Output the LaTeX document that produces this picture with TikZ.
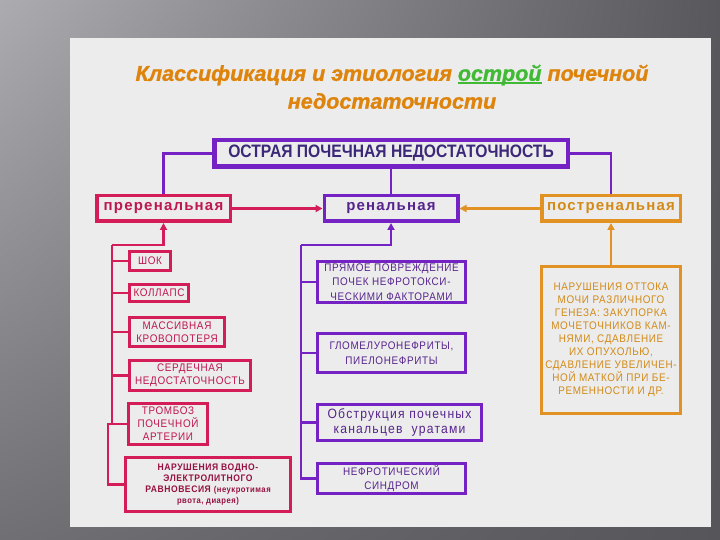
\documentclass[tikz,border=0pt]{standalone}
\usepackage{fontspec}
\setmainfont{Liberation Sans}
\newfontfamily\titlef[FakeBold=1.2]{Liberation Sans}
\newfontfamily\mainf[FakeStretch=0.87]{Liberation Sans}
\newfontfamily\spacef[LetterSpace=8]{Liberation Sans}
\newfontfamily\smallf[FakeStretch=0.9,LetterSpace=6]{Liberation Sans}
\newfontfamily\obsf[FakeStretch=0.9,LetterSpace=9]{Liberation Sans}
\usetikzlibrary{arrows.meta,shadings}
\definecolor{crim}{RGB}{212,28,88}
\definecolor{crimtxt}{RGB}{190,22,78}
\definecolor{crimdark}{RGB}{150,16,64}
\definecolor{purp}{RGB}{116,34,196}
\definecolor{purptxt}{RGB}{86,36,140}
\definecolor{maintxt}{RGB}{60,40,120}
\definecolor{oran}{RGB}{226,146,34}
\definecolor{orantxt}{RGB}{210,138,24}
\definecolor{panel}{RGB}{236,236,236}
\definecolor{titleor}{RGB}{222,132,12}
\definecolor{titlegr}{RGB}{64,186,52}
\definecolor{bgul}{RGB}{172,172,176}
\definecolor{bgur}{RGB}{88,88,92}
\definecolor{bgll}{RGB}{112,112,116}
\definecolor{bglr}{RGB}{86,86,90}
\newcommand{\grul}[1]{\textcolor{titlegr}{\rlap{\rule[-3pt]{\widthof{#1}}{1.4pt}}#1}}
\usepackage{calc}
\begin{document}
\begin{tikzpicture}[x=1pt,y=-1pt,
  box/.style={draw, rectangle, inner sep=0pt, align=center, fill=panel},
  mainbox/.style={box, draw=purp, line width=4.5pt, text=maintxt, font=\mainf\bfseries\fontsize{18}{20}\selectfont},
  lvl/.style={box, line width=3.5pt, minimum height=25.5pt, font=\spacef\bfseries\fontsize{15}{17}\selectfont},
  cbox/.style={box, line width=3pt, draw=crim, text=crimtxt, font=\smallf\fontsize{11}{13}\selectfont},
  rbox/.style={box, line width=3pt, draw=purp, text=purptxt, font=\smallf\fontsize{11}{14.5}\selectfont},
  obox/.style={box, line width=3pt, draw=oran, text=orantxt, font=\smallf\fontsize{11}{13}\selectfont},
  conn/.style={line width=2.2pt},
  arr/.style={conn, -{Triangle[length=7pt,width=7pt]}}
]
\useasboundingbox (0,0) rectangle (720,540);
\shade[upper left=bgul, upper right=bgur, lower left=bgll, lower right=bglr] (0,0) rectangle (720,540);
\fill[panel] (70,38) rectangle (711,527);

% title
\node[text=titleor, font=\titlef\bfseries\itshape\fontsize{21.5}{24}\selectfont] (t1) at (392,75)
  {Классификация и этиология \grul{острой} почечной};
\node[text=titleor, font=\titlef\bfseries\itshape\fontsize{21.5}{24}\selectfont] (t2) at (392,101)
  {недостаточности};

% main
\node[mainbox, minimum width=353.5pt, minimum height=26.5pt] (main) at (391,153.5) {ОСТРАЯ ПОЧЕЧНАЯ НЕДОСТАТОЧНОСТЬ};

% level 1
\node[lvl, draw=crim, text=crimtxt, minimum width=133.5pt] (pre) at (163.5,208.5) {преренальная};
\node[lvl, draw=purp, text=purptxt, minimum width=133.5pt] (ren) at (391,208.5) {ренальная};
\node[lvl, draw=oran, text=orantxt, minimum width=138.5pt] (post) at (611,208.5) {постренальная};

% prerenal children
\node[cbox, minimum width=41pt, minimum height=19pt] (shok) at (150,261) {ШОК};
\node[cbox, minimum width=59pt, minimum height=17pt] (koll) at (159,293) {КОЛЛАПС};
\node[cbox, minimum width=95pt, minimum height=29pt] (mass) at (177,332) {МАССИВНАЯ\\КРОВОПОТЕРЯ};
\node[cbox, minimum width=121pt, minimum height=30pt] (serd) at (190,375.5) {СЕРДЕЧНАЯ\\НЕДОСТАТОЧНОСТЬ};
\node[cbox, minimum width=79pt, minimum height=41pt] (tromb) at (168,424) {ТРОМБОЗ\\ПОЧЕЧНОЙ\\АРТЕРИИ};
\node[cbox, text=crimdark, minimum width=165pt, minimum height=54pt, font=\smallf\bfseries\fontsize{9.5}{11}\selectfont] (nar) at (208,484.5)
  {НАРУШЕНИЯ ВОДНО-\\ЭЛЕКТРОЛИТНОГО\\РАВНОВЕСИЯ {\fontsize{8.5}{11}\selectfont(неукротимая}\\{\fontsize{8.5}{11}\selectfont рвота, диарея)}};

% renal children
\node[rbox, minimum width=148pt, minimum height=41pt] (pryam) at (391.5,282) {ПРЯМОЕ ПОВРЕЖДЕНИЕ\\ПОЧЕК НЕФРОТОКСИ-\\ЧЕСКИМИ ФАКТОРАМИ};
\node[rbox, minimum width=148pt, minimum height=39pt] (glom) at (391.5,353) {ГЛОМЕЛУРОНЕФРИТЫ,\\ПИЕЛОНЕФРИТЫ};
\node[rbox, minimum width=164pt, minimum height=36pt, font=\obsf\fontsize{13.5}{15}\selectfont] (obstr) at (399.5,422.5) {Обструкция почечных\\канальцев~ уратами};
\node[rbox, minimum width=148pt, minimum height=30pt] (nefr) at (391.5,478.5) {НЕФРОТИЧЕСКИЙ\\СИНДРОМ};

% postrenal child
\node[obox, minimum width=139pt, minimum height=147pt] (postb) at (611,340)
  {НАРУШЕНИЯ ОТТОКА\\МОЧИ РАЗЛИЧНОГО\\ГЕНЕЗА: ЗАКУПОРКА\\МОЧЕТОЧНИКОВ КАМ-\\НЯМИ, СДАВЛЕНИЕ\\ИХ ОПУХОЛЬЮ,\\СДАВЛЕНИЕ УВЕЛИЧЕН-\\НОЙ МАТКОЙ ПРИ БЕ-\\РЕМЕННОСТИ И ДР.};

% coordinates
\coordinate (ptop) at (112,245);
\coordinate (rtop) at (301,245);

% main connectors
\draw[conn, purp] (main.west) -| (pre.north);
\draw[conn, purp] (main.east) -| (post.north);
\draw[conn, purp] (main.south) -- (ren.north);

% level arrows
\draw[arr, crim] (pre.east) -- (ren.west);
\draw[arr, oran] (post.west) -- (ren.east);

% prerenal tree
\draw[arr, crim] (ptop) -| (pre.south);
\draw[conn, crim] (ptop) |- (shok.west);
\draw[conn, crim] (ptop) |- (koll.west);
\draw[conn, crim] (ptop) |- (mass.west);
\draw[conn, crim] (ptop) |- (serd.west);
\draw[conn, crim] (ptop) |- (tromb.west);
\draw[conn, crim] (tromb.west) -- ++(-19,0) |- (nar.west);

% renal tree
\draw[arr, purp] (rtop) -| (ren.south);
\draw[conn, purp] (rtop) |- (pryam.west);
\draw[conn, purp] (rtop) |- (glom.west);
\draw[conn, purp] (rtop) |- (obstr.west);
\draw[conn, purp] (rtop) |- (nefr.west);

% postrenal
\draw[arr, oran] (postb.north) -- (post.south);
\end{tikzpicture}
\end{document}
